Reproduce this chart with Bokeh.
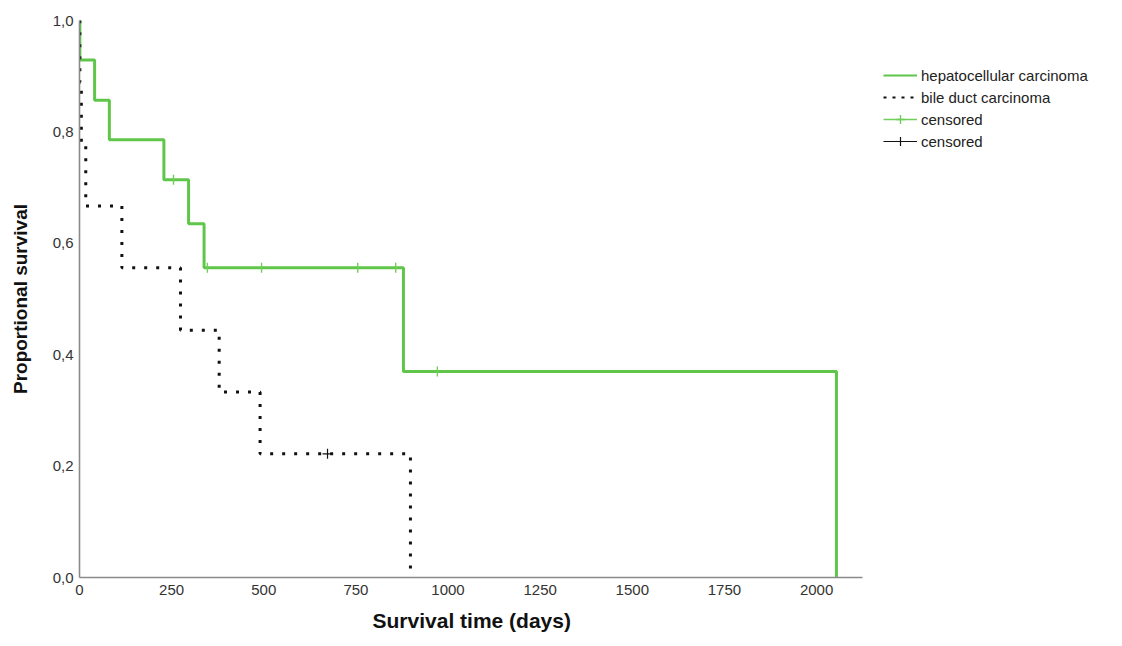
from bokeh.plotting import figure
from bokeh.models import Range1d, FixedTicker, Legend, LegendItem, ColumnDataSource, Title
from bokeh.embed import file_html
from bokeh.resources import INLINE

# --- data ---
hcc_times = [0, 1, 41, 81, 229, 296, 338, 879, 2054]
hcc_surv = [1.0, 0.929, 0.857, 0.786, 0.714, 0.635, 0.556, 0.370, 0.0]
hcc_cens_times = [255, 347, 494, 755, 858, 971]
hcc_cens_surv = [0.714, 0.556, 0.556, 0.556, 0.556, 0.370]

bile_times = [0, 1, 5, 17, 115, 274, 379, 490, 898]
bile_surv = [1.0, 0.889, 0.778, 0.667, 0.556, 0.444, 0.333, 0.222, 0.0]
bile_cens_times = [673]
bile_cens_surv = [0.222]

x_ticks = [0, 250, 500, 750, 1000, 1250, 1500, 1750, 2000]
y_ticks = [0.0, 0.2, 0.4, 0.6, 0.8, 1.0]
y_tick_labels = ["0,0", "0,2", "0,4", "0,6", "0,8", "1,0"]

x_title = "Survival time (days)"
y_title = "Proportional survival"
legend_labels = ["hepatocellular carcinoma", "bile duct carcinoma", "censored", "censored"]

GREEN = "#60c64a"
GREEN_CENS = "#6fcf5a"
BLACK = "#111111"
FONT = "Liberation Sans"

AXIS_END = 2125
X_VIEW_END = 2803  # frame continues to the right to host the legend

p = figure(width=1122, height=646, output_backend="svg", toolbar_location=None,
           x_range=Range1d(0, X_VIEW_END), y_range=Range1d(0, 1.0),
           min_border_left=79, min_border_right=10, min_border_top=20, min_border_bottom=69)
p.outline_line_color = None
p.xgrid.grid_line_color = None
p.ygrid.grid_line_color = None
p.background_fill_color = "white"
p.border_fill_color = "white"

for ax in (p.xaxis[0], p.yaxis[0]):
    ax.axis_line_color = "#8a8a8a"
    ax.axis_line_width = 1.6
    ax.major_tick_out = 0
    ax.major_tick_in = 0
    ax.minor_tick_out = 0
    ax.minor_tick_in = 0
    ax.major_label_text_font = FONT
    ax.major_label_text_font_size = "15px"
    ax.major_label_text_color = "#333333"
    ax.axis_label_text_font = FONT
    ax.axis_label_text_font_style = "bold"
    ax.axis_label_text_color = "#111111"

p.xaxis[0].ticker = FixedTicker(ticks=x_ticks)
p.xaxis[0].bounds = (0, AXIS_END)
p.xaxis[0].major_label_standoff = 7

p.yaxis[0].ticker = FixedTicker(ticks=y_ticks)
p.yaxis[0].major_label_overrides = {t: l for t, l in zip(y_ticks, y_tick_labels)}
p.yaxis[0].major_label_standoff = 6
p.yaxis[0].axis_label = y_title
p.yaxis[0].axis_label_text_font_size = "19px"
p.yaxis[0].axis_label_standoff = 19

# x-axis title placed under the axis itself (axis is shorter than the frame)
xt = Title(text=x_title, align="left", offset=293, standoff=18,
           text_font=FONT, text_font_size="21px", text_font_style="bold",
           text_color="#111111", text_line_height=0.6)
p.add_layout(xt, "below")

hcc_src = ColumnDataSource(dict(x=hcc_times, y=hcc_surv))
bile_src = ColumnDataSource(dict(x=bile_times, y=bile_surv))

r_hcc = p.step("x", "y", source=hcc_src, mode="after", line_color=GREEN, line_width=3)
r_hcc_c = p.scatter(hcc_cens_times, hcc_cens_surv, marker="dash", angle=1.5708, size=10,
                    line_color=GREEN_CENS, line_width=1.4)
r_bile = p.step("x", "y", source=bile_src, mode="after", line_color=BLACK, line_width=3,
                line_dash="3 9")
r_bile_c = p.scatter(bile_cens_times, bile_cens_surv, marker="cross", size=10,
                     line_color=BLACK, line_width=1.2)

# legend-only glyphs (placed outside the visible range)
off_x = [-500, -400]
off_y = [-1, -1]
lg_hcc = p.line(off_x, off_y, line_color=GREEN, line_width=2)
lg_bile = p.line(off_x, off_y, line_color=BLACK, line_width=2, line_dash="3 6")
lg_gc_line = p.line(off_x, off_y, line_color=GREEN_CENS, line_width=1.4)
lg_gc = p.scatter(off_x, off_y, marker="cross", size=14, line_color=GREEN_CENS, line_width=1.4)
lg_bc_line = p.line(off_x, off_y, line_color=BLACK, line_width=1.2)
lg_bc = p.scatter(off_x, off_y, marker="cross", size=14, line_color=BLACK, line_width=1.2)

legend = Legend(items=[
    LegendItem(label=legend_labels[0], renderers=[lg_hcc]),
    LegendItem(label=legend_labels[1], renderers=[lg_bile]),
    LegendItem(label=legend_labels[2], renderers=[lg_gc_line, lg_gc]),
    LegendItem(label=legend_labels[3], renderers=[lg_bc_line, lg_bc]),
], location=(804, 425))
legend.border_line_color = None
legend.background_fill_alpha = 0
legend.padding = 0
legend.margin = 0
legend.spacing = 0
legend.label_height = 22
legend.glyph_height = 22
legend.glyph_width = 34
legend.label_standoff = 4
legend.label_text_font = FONT
legend.label_text_font_size = "15px"
legend.label_text_color = "#222222"
p.add_layout(legend, "center")

open("out.html", "w").write(file_html(p, INLINE))
